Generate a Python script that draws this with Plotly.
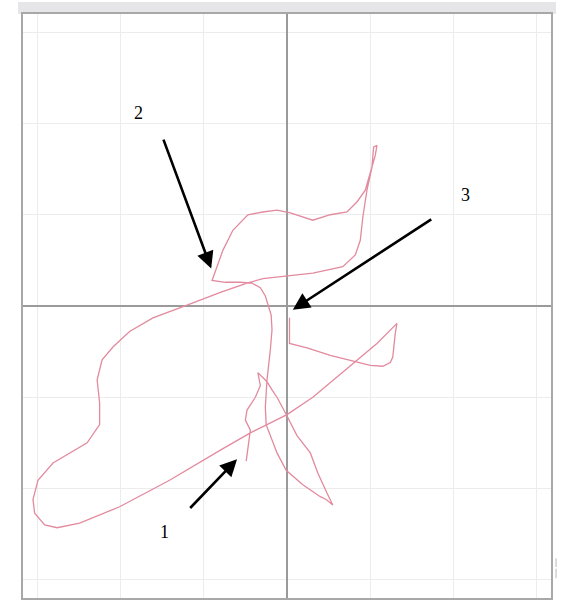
import plotly.graph_objects as go

# Trajectory (grid units; one grid cell = 1)
path_x = [-0.49, -0.48, -0.46, -0.44, -0.50, -0.48, -0.38, -0.32, -0.35, -0.30,
          -0.24, -0.18, -0.12, -0.02, 0.07, 0.12, 0.28, 0.37, 0.48, 0.55,
          0.47, 0.40, 0.19, -0.01, -0.12, -0.20, -0.25, -0.26, -0.24, -0.20,
          -0.18, -0.19, -0.23, -0.26, -0.32, -0.42, -0.56, -0.74, -0.90, -0.84,
          -0.77, -0.65, -0.47, -0.29, -0.12, 0.04, 0.31, 0.52, 0.72, 0.84,
          0.94, 1.00, 1.06, 1.08, 1.04, 1.02, 0.96, 0.91, 0.88, 0.82,
          0.67, 0.31, 0.00, -0.29, -0.48, -0.80, -1.20, -1.61, -1.89, -2.09,
          -2.22, -2.28, -2.25, -2.25, -2.40, -2.61, -2.81, -2.99, -3.05, -3.03,
          -2.91, -2.76, -2.49, -2.01, -1.41, -0.80, -0.44, -0.24, 0.00, 0.31,
          0.82, 1.08, 1.30, 1.32, 1.30, 1.27, 1.24, 1.15, 1.00, 0.82,
          0.52, 0.24, 0.03, 0.03]
path_y = [-1.70, -1.63, -1.47, -1.36, -1.25, -1.14, -1.00, -0.87, -0.73, -0.78,
          -0.83, -0.92, -1.00, -1.17, -1.34, -1.42, -1.61, -1.83, -2.05, -2.18,
          -2.12, -2.09, -1.96, -1.80, -1.61, -1.43, -1.30, -1.11, -0.81, -0.48,
          -0.26, -0.10, 0.01, 0.11, 0.20, 0.25, 0.26, 0.26, 0.28, 0.43,
          0.61, 0.83, 1.00, 1.03, 1.05, 1.02, 0.94, 1.00, 1.03, 1.14,
          1.27, 1.46, 1.65, 1.76, 1.74, 1.52, 1.27, 0.97, 0.72, 0.56,
          0.43, 0.36, 0.33, 0.30, 0.25, 0.15, 0.01, -0.13, -0.28, -0.45,
          -0.59, -0.81, -1.06, -1.30, -1.50, -1.61, -1.72, -1.91, -2.12, -2.27,
          -2.40, -2.43, -2.38, -2.20, -1.91, -1.58, -1.39, -1.30, -1.19, -1.00,
          -0.61, -0.41, -0.21, -0.19, -0.30, -0.56, -0.62, -0.66, -0.65, -0.61,
          -0.54, -0.46, -0.41, -0.13]

# Arrow callouts: label, tail, tip, label position
labels = ["1", "2", "3"]
tail_x = [-1.18, -1.49, 1.75]
tail_y = [-2.23, 1.84, 0.96]
tip_x = [-0.60, -0.91, 0.07]
tip_y = [-1.68, 0.41, -0.04]
label_x = [-1.47, -1.78, 2.14]
label_y = [-2.48, 2.12, 1.22]

fig = go.Figure()
fig.add_trace(go.Scatter(
    x=path_x, y=path_y, mode="lines",
    line=dict(color="rgb(226,138,158)", width=1.3),
    hoverinfo="skip", showlegend=False,
))

annotations = []
for lab, tx, ty, hx, hy, lx, ly in zip(labels, tail_x, tail_y, tip_x, tip_y, label_x, label_y):
    annotations.append(dict(
        x=hx, y=hy, ax=tx, ay=ty, xref="x", yref="y", axref="x", ayref="y",
        text="", showarrow=True, arrowhead=2, arrowsize=1.3, arrowwidth=2.6,
        arrowcolor="black", standoff=0,
    ))
    annotations.append(dict(
        x=lx, y=ly, xref="x", yref="y", text=lab, showarrow=False,
        font=dict(family="Liberation Serif, Times New Roman, serif", size=18, color="black"),
    ))

shapes = [
    # light gray band above the frame
    dict(type="rect", xref="paper", yref="paper", x0=-0.0095, x1=1.0095,
         y0=1.0, y1=1.0205, fillcolor="#e6e6e8", line=dict(width=0), layer="below"),
    # tiny marks at the right edge
    dict(type="line", xref="paper", yref="paper", x0=1.0095, x1=1.0095,
         y0=0.053, y1=0.068, line=dict(color="#b8b8b8", width=1)),
    dict(type="line", xref="paper", yref="paper", x0=1.0095, x1=1.0095,
         y0=0.034, y1=0.050, line=dict(color="#b8b8b8", width=1)),
]

axis_common = dict(
    showgrid=True, gridcolor="#ececec", gridwidth=1, dtick=1, tick0=0,
    zeroline=True, zerolinecolor="#9a9a9a", zerolinewidth=1.5,
    showticklabels=False, ticks="",
    showline=True, linecolor="#a8a8a8", linewidth=2, mirror=True,
    fixedrange=True,
)

fig.update_layout(
    width=563, height=602,
    margin=dict(l=23, r=12, t=14, b=4),
    paper_bgcolor="white", plot_bgcolor="white",
    xaxis=dict(range=[-3.17, 3.17], **axis_common),
    yaxis=dict(range=[-3.2, 3.2], **axis_common),
    annotations=annotations, shapes=shapes,
)

fig.write_html(
    "out.html",
    config={"displayModeBar": False},
    post_script="document.body.style.margin='0';document.body.style.overflow='hidden';",
)
